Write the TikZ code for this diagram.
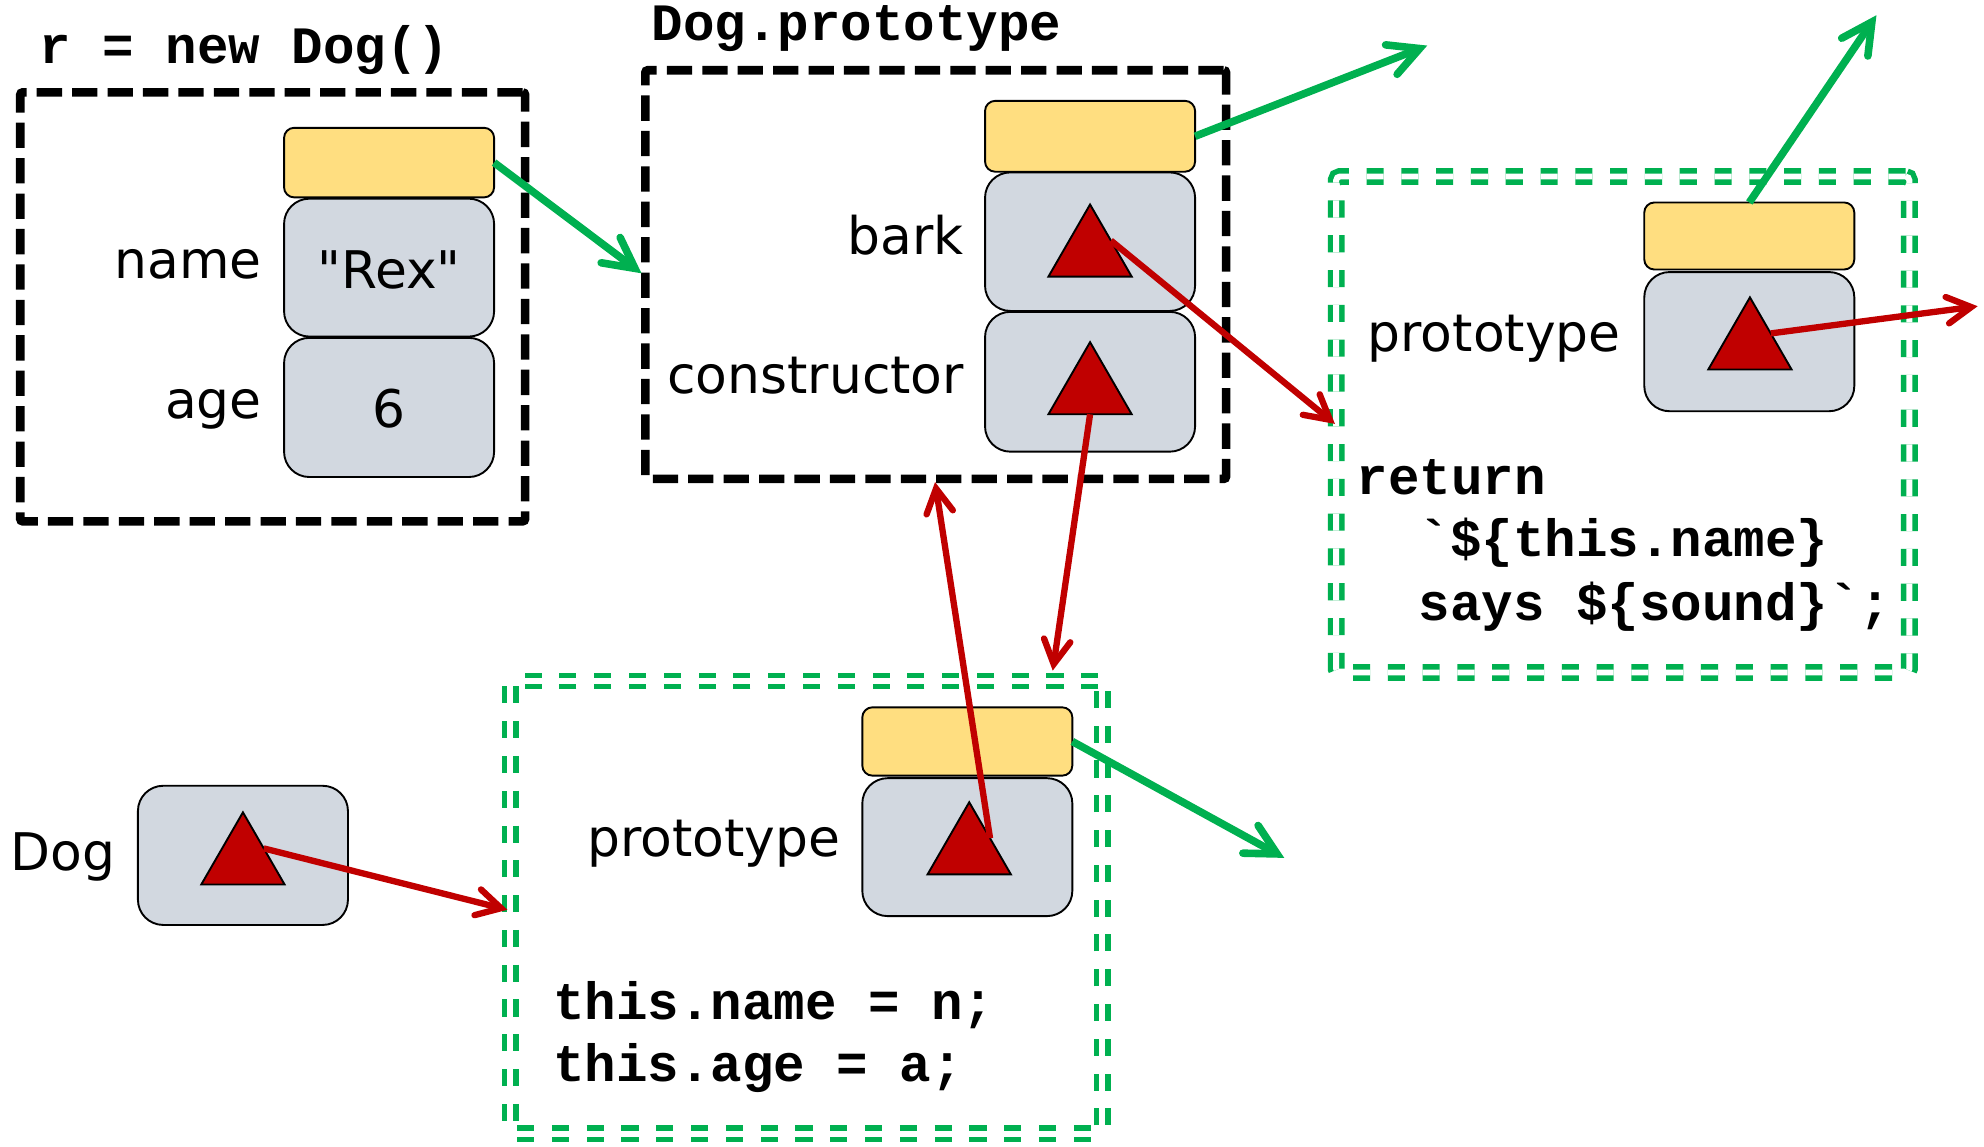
\documentclass[tikz,border=0pt]{standalone}
\usepackage{fontspec}
\setmainfont{DejaVu Sans}[Ligatures=TeXOff]
\newfontfamily\codefont{Liberation Mono}[Ligatures=TeXOff]
\usetikzlibrary{arrows.meta,shapes.geometric,calc}

\definecolor{slotyellow}{RGB}{255,222,128}
\definecolor{slotgrey}{RGB}{210,216,224}
\definecolor{ptrred}{RGB}{192,0,0}
\definecolor{ptrgreen}{RGB}{0,176,80}

\tikzset{
  objbox/.style={draw=black, line width=6.8pt, dash pattern=on 20pt off 8pt,
    rounded corners=2pt, rectangle, inner sep=0pt, outer sep=0pt},
  fnbox/.style={draw=ptrgreen, double=white, double distance=4.7pt, line width=4.3pt,
    dash pattern=on 13.5pt off 14pt, rounded corners=3pt,
    rectangle, inner sep=0pt, outer sep=0pt},
  protoslot/.style={draw=black, line width=1.5pt, fill=slotyellow, rectangle,
    rounded corners=8pt, minimum width=166pt, inner sep=0pt, outer sep=0pt},
  valslot/.style={draw=black, line width=1.5pt, fill=slotgrey, rectangle,
    rounded corners=20pt, minimum width=166pt, inner sep=0pt, outer sep=0pt},
  fnref/.style={regular polygon, regular polygon sides=3, minimum size=76pt,
    inner sep=0pt, outer sep=0pt, fill=ptrred, draw=black, line width=1.5pt},
  lbl/.style={inner sep=0pt, font=\fontsize{41pt}{48pt}\selectfont},
  code/.style={inner sep=0pt, anchor=base west,
    font=\codefont\fontsize{41.5pt}{50pt}\selectfont\bfseries},
  protoptr/.style={-{Straight Barb[length=24pt, width=25pt, line cap=round]},
    draw=ptrgreen, line width=6pt},
  fnptr/.style={-{Straight Barb[length=19pt, width=21pt, line cap=round]},
    draw=ptrred, line width=5pt},
}

\begin{document}
\begin{tikzpicture}[x=1pt, y=-1pt]
  \useasboundingbox (0,0) rectangle (1568,906);

  % ---- object r ----
  \node[code] (rex-title) at (31,50) {r = new Dog()};
  \node[objbox, minimum width=399pt, minimum height=339pt] (rex) at (215.5,242.5) {};
  \node[protoslot, minimum height=55pt] (rex-proto) at (307.5,128.5) {};
  \node[valslot, minimum height=109pt] (rex-name) at (307.5,211.5) {};
  \node[valslot, minimum height=110pt] (rex-age) at (307.5,322) {};
  \node[lbl, anchor=base east] (rex-name-lbl) at (207,220) {name};
  \node[lbl, anchor=base east] (rex-age-lbl) at (207,331) {age};
  \node[lbl, anchor=base] (rex-name-val) at (307.5,228) {"Rex"};
  \node[lbl, anchor=base] (rex-age-val) at (307.5,338) {6};

  % ---- Dog.prototype ----
  \node[code] (dp-title) at (515,32) {Dog.prototype};
  \node[objbox, minimum width=459pt, minimum height=323pt] (dp) at (739.5,217) {};
  \node[protoslot, minimum height=56pt] (dp-proto) at (861.5,107.7) {};
  \node[valslot, minimum height=109.5pt] (dp-bark) at (861.5,191) {};
  \node[valslot, minimum height=110.5pt] (dp-ctor) at (861.5,301.7) {};
  \node[fnref] (bark-tri) at (861.5,199.6) {};
  \node[fnref] (ctor-tri) at (861.5,308.4) {};
  \node[lbl, anchor=base east] (dp-bark-lbl) at (762,201) {bark};
  \node[lbl, anchor=base east] (dp-ctor-lbl) at (762,311) {constructor};

  % ---- bark function ----
  \node[fnbox, minimum width=453pt, minimum height=392pt] (barkfn) at (1282.5,335.5) {};
  \node[protoslot, minimum height=53pt] (barkfn-proto) at (1382.5,186.5) {};
  \node[valslot, minimum height=110pt] (barkfn-pt) at (1382.5,270) {};
  \node[fnref] (barkfn-tri) at (1383,273) {};
  \node[lbl, anchor=base east] (barkfn-lbl) at (1281,278) {prototype};
  \node[code] (barkfn-code1) at (1072,391) {return};
  \node[code] (barkfn-code2) at (1121,440) {\char"60\$\{this.name\}};
  \node[code] (barkfn-code3) at (1121,490) {says \$\{sound\}\char"60;};

  % ---- Dog constructor function ----
  \node[fnbox, minimum width=467.7pt, minimum height=357.8pt] (dogfn) at (637.2,717.1) {};
  \node[protoslot, minimum height=54pt] (dogfn-proto) at (764.5,586) {};
  \node[valslot, minimum height=109pt] (dogfn-pt) at (764.5,669.5) {};
  \node[fnref] (dogfn-tri) at (766,672) {};
  \node[lbl, anchor=base east] (dogfn-lbl) at (664,677) {prototype};
  \node[code] (dogfn-code1) at (437,806) {this.name = n;};
  \node[code] (dogfn-code2) at (437,855) {this.age = a;};

  % ---- variable Dog ----
  \node[valslot, minimum width=166pt, minimum height=110pt] (dogvar) at (192,676) {};
  \node[fnref] (dogvar-tri) at (192,680) {};
  \node[lbl, anchor=base west] (dogvar-lbl) at (8,688) {Dog};

  % ---- free ends of pointers ----
  \coordinate (dp-in) at (507,216);
  \coordinate (dp-up) at (1128,36);
  \coordinate (barkfn-up) at (1483,12);
  \coordinate (dogfn-out) at (1015,678);
  \coordinate (barkfn-in) at (1055,335);
  \coordinate (barkfn-out) at (1563,242);
  \coordinate (dogfn-in) at (832,530);
  \coordinate (dp-bottom) at (739,381);
  \coordinate (dogvar-to) at (401,719);

  % ---- prototype links ----
  \draw[protoptr] (rex-proto.east) -- (dp-in);
  \draw[protoptr] (dp-proto.east) -- (dp-up);
  \draw[protoptr] (barkfn-proto.north) -- (barkfn-up);
  \draw[protoptr] (dogfn-proto.east) -- (dogfn-out);

  % ---- function references ----
  \draw[fnptr] (bark-tri.side 3) -- (barkfn-in);
  \draw[fnptr] (barkfn-tri.side 3) -- (barkfn-out);
  \draw[fnptr] (ctor-tri.side 2) -- (dogfn-in);
  \draw[fnptr] (dogfn-tri.side 3) -- (dp-bottom);
  \draw[fnptr] (dogvar-tri.side 3) -- (dogvar-to);
\end{tikzpicture}
\end{document}
